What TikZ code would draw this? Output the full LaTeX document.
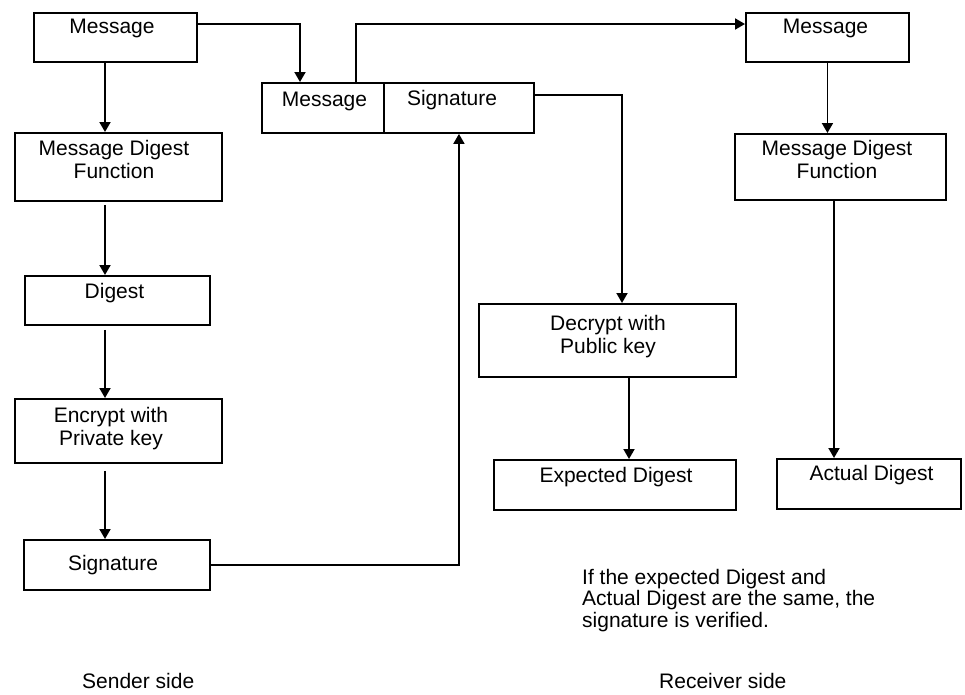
\documentclass[tikz,border=0pt]{standalone}
\usepackage{fontspec}
\setmainfont{Liberation Sans}
\usetikzlibrary{arrows.meta}
\begin{document}
\begin{tikzpicture}[x=1pt,y=-1pt,
  box/.style={draw, line width=1.9pt, rectangle, inner sep=0pt, anchor=north west},
  txt/.style={font=\fontsize{21}{23}\selectfont, inner sep=0pt, align=center},
  note/.style={font=\fontsize{21}{21.5}\selectfont, inner sep=0pt, align=left},
  arr/.style={line width=1.9pt, -{Triangle[length=10pt,width=11pt]}},
  conn/.style={line width=1.9pt}]
\useasboundingbox (0,0) rectangle (965,694);
% sender side boxes
\node[box, minimum width=163pt, minimum height=49pt] (msg1) at (33,12) {};
\node[box, minimum width=207pt, minimum height=68pt] (mdf1) at (14,132) {};
\node[box, minimum width=185pt, minimum height=49pt] (dig1) at (24,275) {};
\node[box, minimum width=207pt, minimum height=64pt] (enc1) at (14,398) {};
\node[box, minimum width=186pt, minimum height=50pt] (sig1) at (23,539) {};
% transmitted message + signature
\node[box, minimum width=122pt, minimum height=50pt] (msgmid) at (261,82) {};
\node[box, minimum width=150pt, minimum height=50pt] (sigmid) at (383,82) {};
% receiver side boxes
\node[box, minimum width=163pt, minimum height=49pt] (msg2) at (745,12) {};
\node[box, minimum width=211pt, minimum height=66pt] (mdf2) at (734,133) {};
\node[box, minimum width=257pt, minimum height=73pt] (dec) at (478,303) {};
\node[box, minimum width=242pt, minimum height=50pt] (exp) at (493,459) {};
\node[box, minimum width=184pt, minimum height=50pt] (act) at (776,458) {};
% texts
\node[txt, anchor=base] (t1) at (112,33) {Message};
\node[txt, anchor=north] (t2) at (114,140) {Message Digest\\Function};
\node[txt, anchor=base] (t3) at (114.5,298) {Digest};
\node[txt, anchor=north] (t4) at (111,407) {Encrypt with\\Private key};
\node[txt, anchor=base] (t5) at (113,570) {Signature};
\node[txt, anchor=base] (t6) at (324.5,106) {Message};
\node[txt, anchor=base] (t7) at (452,105) {Signature};
\node[txt, anchor=base] (t8) at (825.5,33) {Message};
\node[txt, anchor=north] (t9) at (837,140) {Message Digest\\Function};
\node[txt, anchor=north] (t10) at (608,315) {Decrypt with\\Public key};
\node[txt, anchor=base] (t11) at (616,482) {Expected Digest};
\node[txt, anchor=base] (t12) at (871.5,480) {Actual Digest};
\node[note, anchor=north west] (nt) at (582,569) {If the expected Digest and\\Actual Digest are the same, the\\signature is verified.};
\node[txt, anchor=base west] (sside) at (82,688) {Sender side};
\node[txt, anchor=base west] (rside) at (659,688) {Receiver side};
% connectors, sender column
\coordinate (lc) at (105,0);
\draw[arr] (msg1.south -| lc) -- (mdf1.north -| lc);
\draw[arr, shorten <=3pt] (mdf1.south -| lc) -- (dig1.north -| lc);
\draw[arr, shorten <=4pt] (dig1.south -| lc) -- (enc1.north -| lc);
\draw[arr, shorten <=7pt] (enc1.south -| lc) -- (sig1.north -| lc);
% to transmitted pair
\draw[arr] ([yshift=-12pt]msg1.north east) -| ([xshift=39pt]msgmid.north west);
\draw[arr] (sig1.east) -| (sigmid.south);
% to receiver
\draw[arr] ([xshift=95pt]msgmid.north west) |- ([yshift=-12pt]msg2.north west);
\draw[arr] ([yshift=-13pt]sigmid.north east) -| ([xshift=144pt]dec.north west);
\draw[arr] (msg2.south) -- (msg2.south |- mdf2.north);
\draw[arr] ([xshift=100pt]mdf2.south west) -- ([xshift=100pt]mdf2.south west |- act.north);
\draw[arr] ([xshift=151pt]dec.south west) -- ([xshift=151pt]dec.south west |- exp.north);
\end{tikzpicture}
\end{document}
